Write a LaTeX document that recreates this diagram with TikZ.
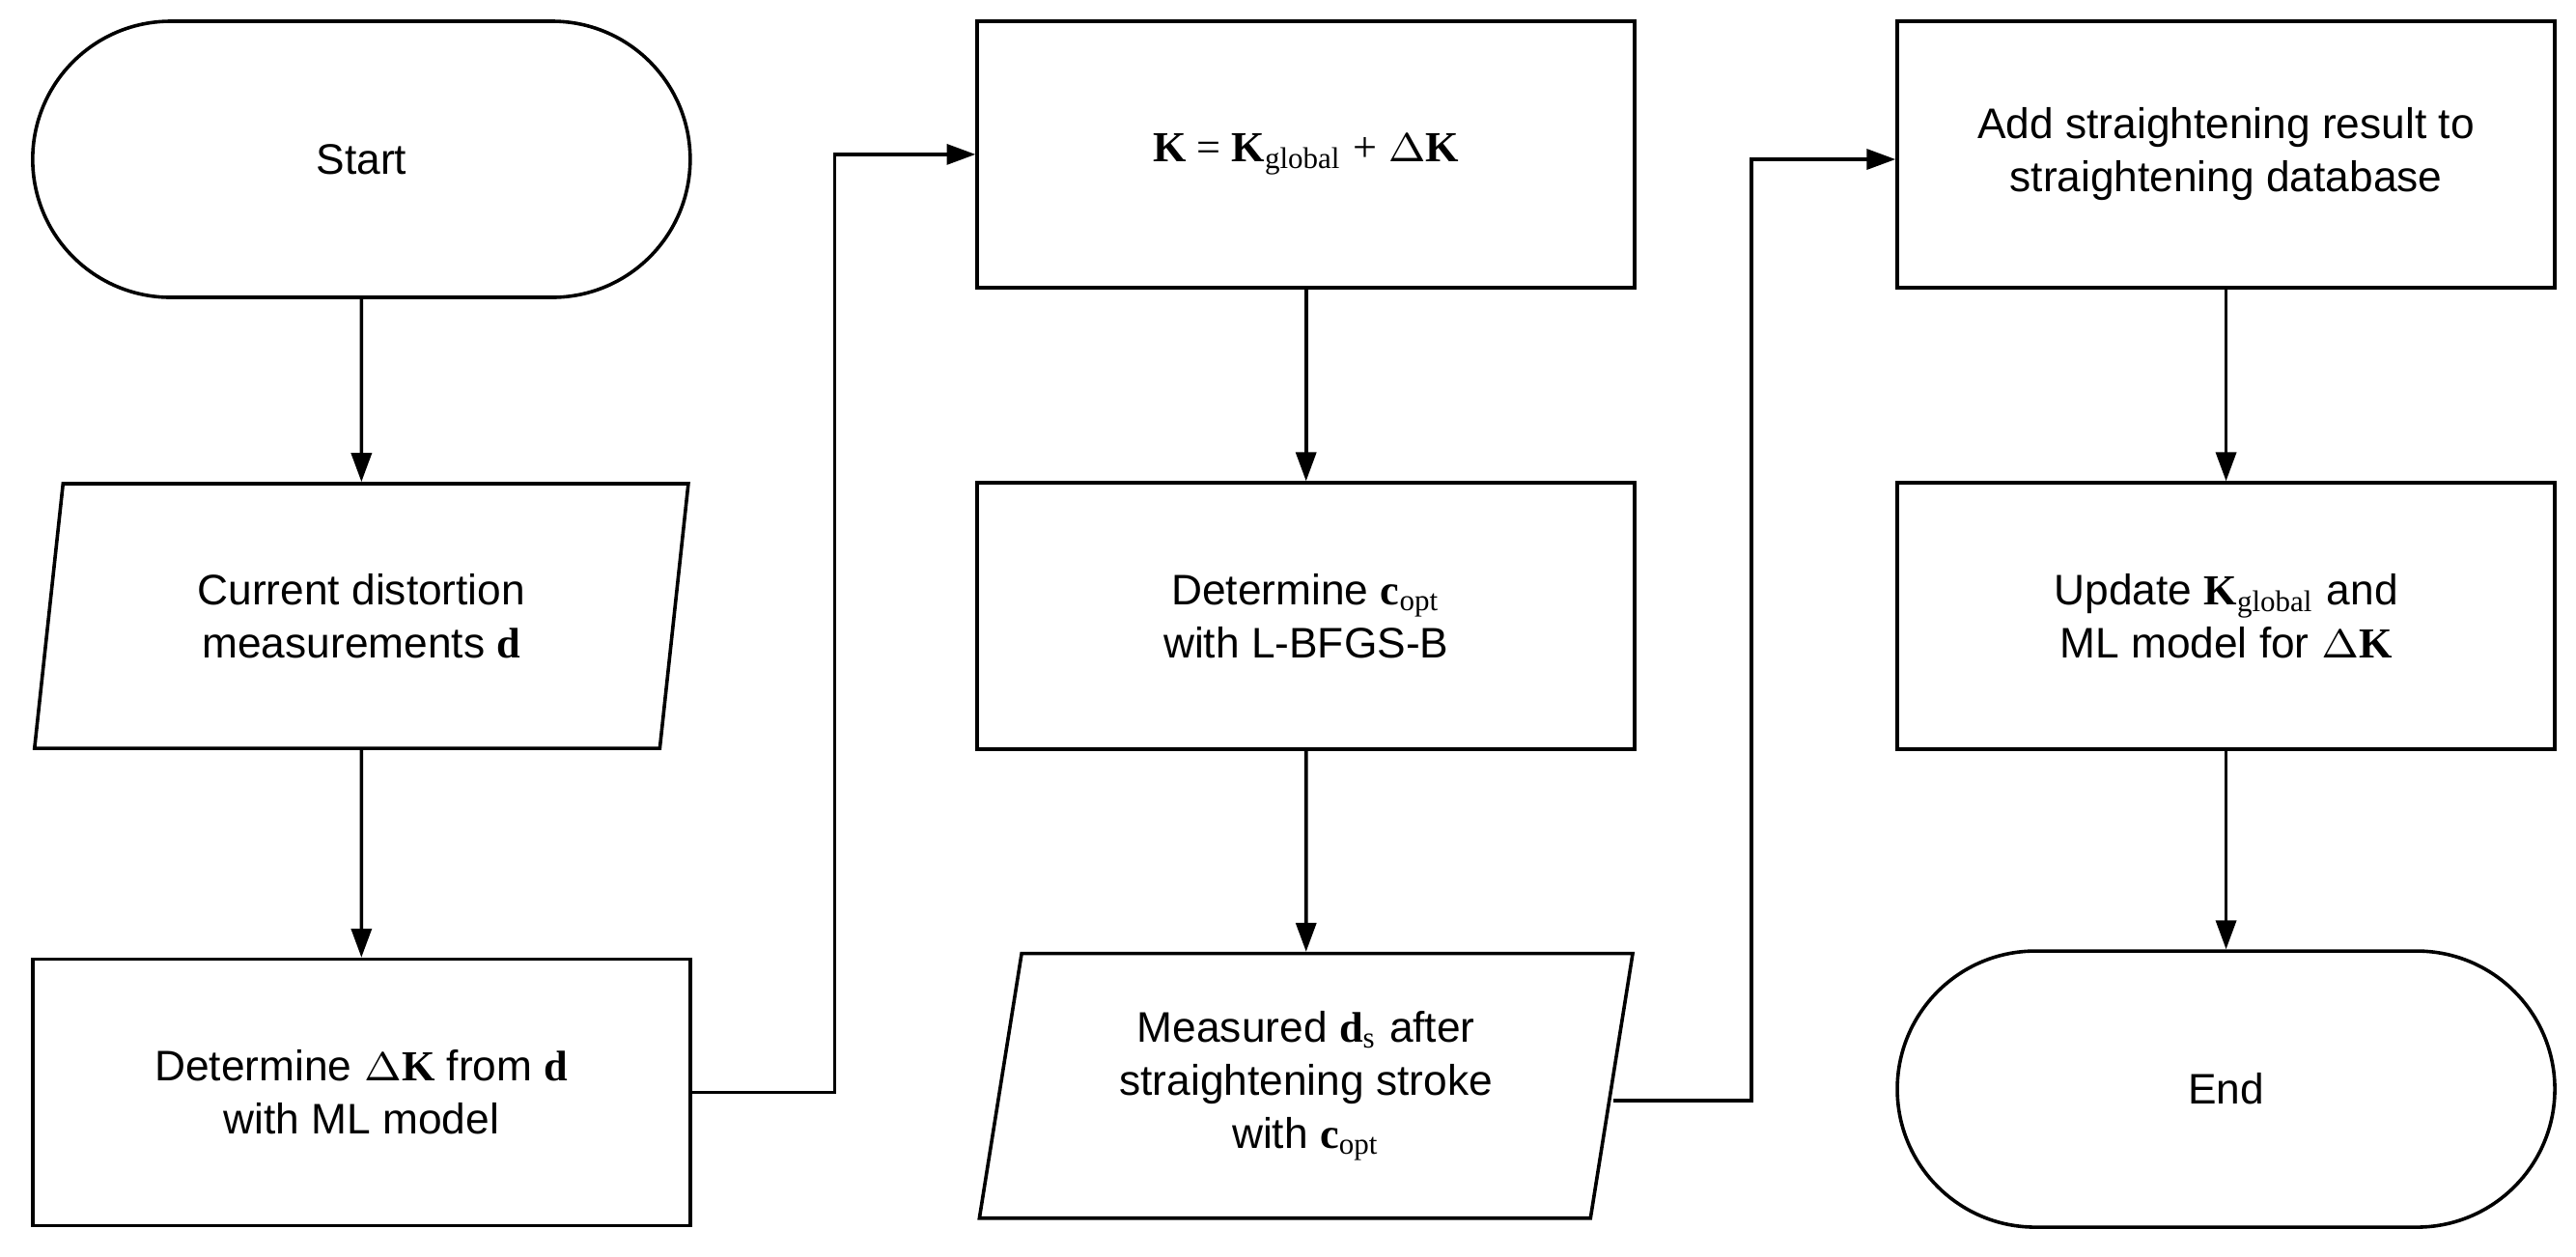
\documentclass[tikz,border=0pt]{standalone}
\usepackage{fontspec}
\setmainfont{Liberation Sans}
\newfontfamily\tms{Liberation Serif}
\usetikzlibrary{shapes.geometric,arrows.meta}
\newcommand{\bK}{{\tms\textbf{K}}}
\newcommand{\bd}{{\tms\textbf{d}}}
\newcommand{\bc}{{\tms\textbf{c}}}
\newcommand{\sub}[1]{{\tms\textsubscript{#1}}}
\newcommand{\dK}{{\tms$\Delta$\textbf{K}}}
\begin{document}
\begin{tikzpicture}[x=0.01cm,y=-0.01cm,
  every node/.style={font=\fontsize{7.4pt}{9.2pt}\selectfont, align=center, draw, line width=0.6pt, inner sep=0pt},
  box/.style={rectangle, minimum width=4cm, minimum height=1.62cm},
  term/.style={rectangle, rounded corners=0.84cm, minimum width=4cm, minimum height=1.68cm},
  io/.style={trapezium, trapezium left angle=79.5, trapezium right angle=100.5, trapezium stretches=true, minimum width=4cm, minimum height=1.61cm},
  arr/.style={-{Triangle[length=5pt,width=3.5pt]}, line width=0.6pt}]
\useasboundingbox (0,0) rectangle (1568,765);
\node[term] (start) at (220,97) {Start};
\node[io] (meas) at (220,375) {Current distortion\\measurements \bd};
\node[box] (dk) at (220,665) {Determine \dK{} from \bd\\with ML model};
\node[box] (kk) at (795,94) {\tms\textbf{K} = \textbf{K}\textsubscript{global} + $\Delta$\textbf{K}};
\node[box] (copt) at (795,375) {Determine \bc\sub{opt}\\with L-BFGS-B};
\node[io] (ds) at (795,661) {Measured \bd\sub{s} after\\straightening stroke\\with \bc\sub{opt}};
\node[box] (add) at (1355,94) {Add straightening result to\\straightening database};
\node[box] (upd) at (1355,375) {Update \bK\sub{global} and\\ML model for \dK};
\node[term] (end) at (1355,663) {End};
\coordinate (a1) at (508,665);
\coordinate (a2) at (508,94);
\coordinate (b1) at (1066,670);
\coordinate (b2) at (1066,97);
\draw[arr] (start) -- (meas);
\draw[arr] (meas) -- (dk);
\draw[arr] (dk.east) -- (a1) -- (a2) -- (kk.west);
\draw[arr] (kk) -- (copt);
\draw[arr] (copt) -- (ds);
\draw[arr] (ds.east |- b1) -- (b1) -- (b2) -- (add.west |- b2);
\draw[arr] (add) -- (upd);
\draw[arr] (upd) -- (end);
\end{tikzpicture}
\end{document}
